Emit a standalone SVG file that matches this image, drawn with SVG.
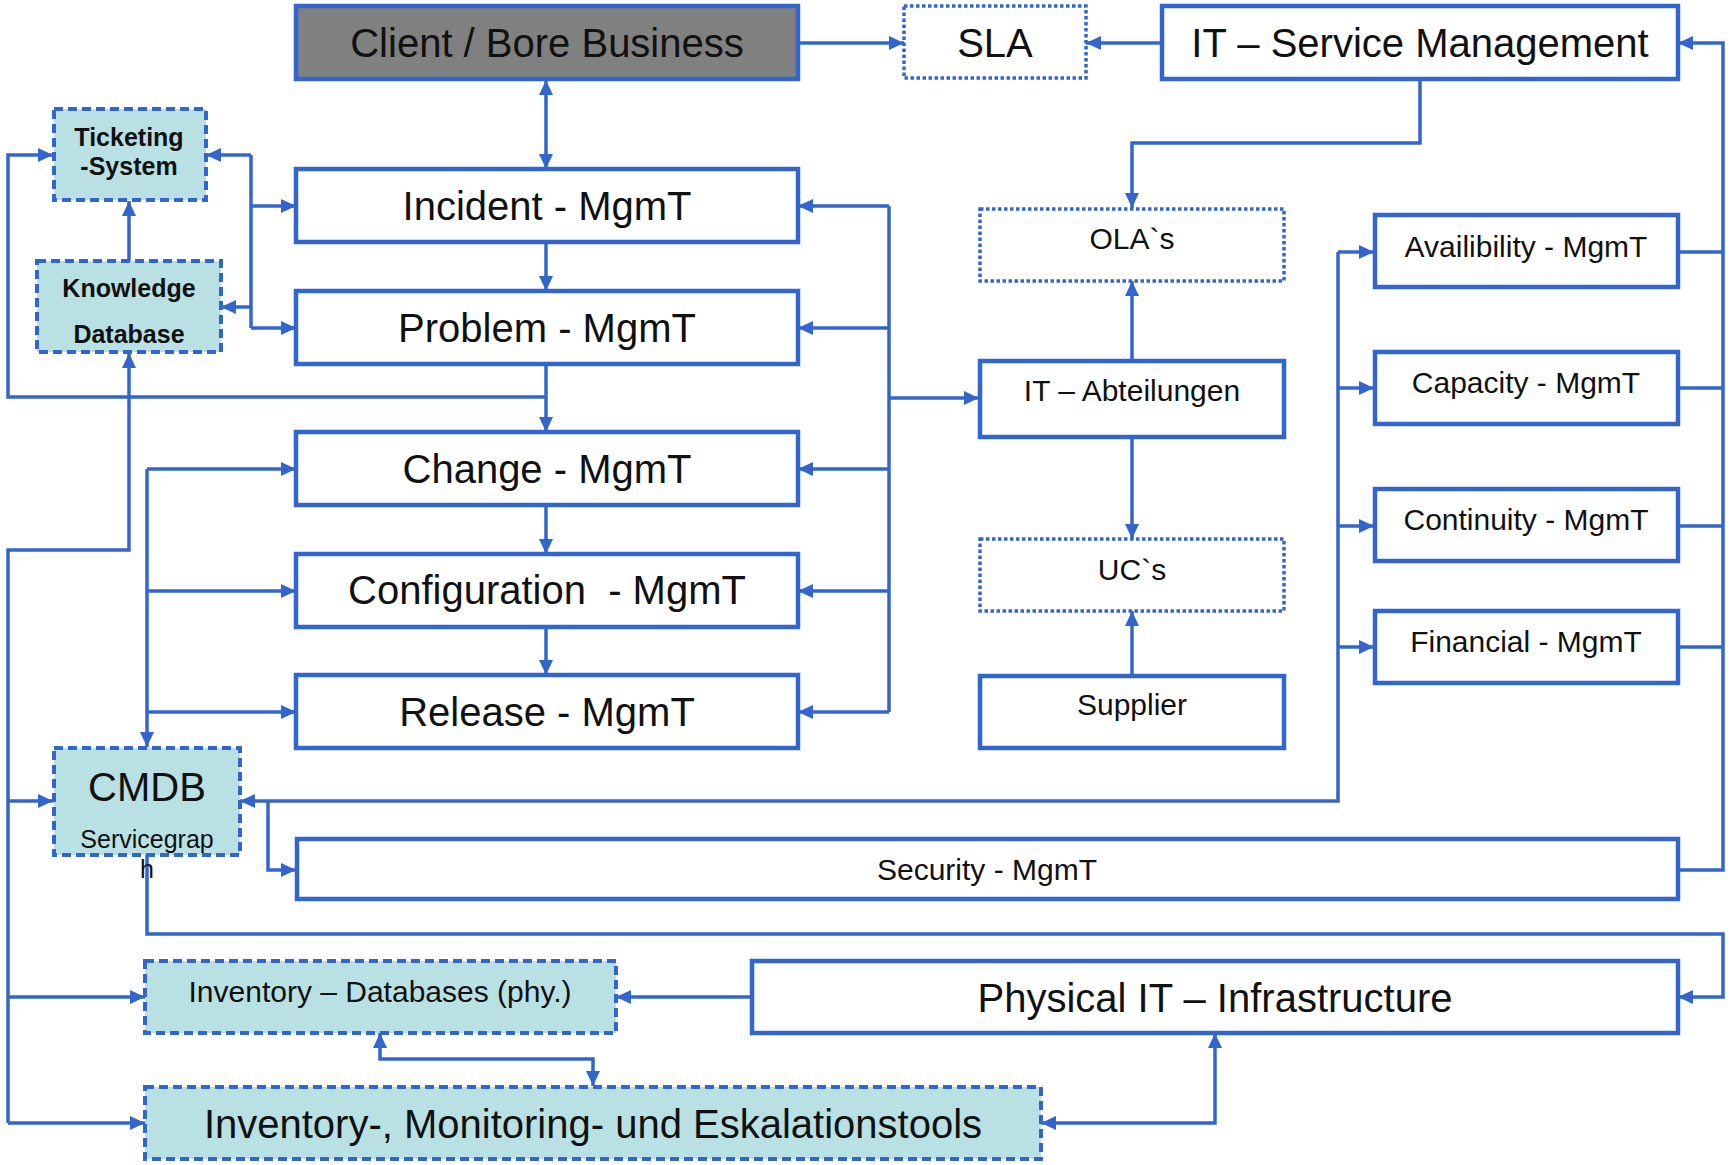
<svg xmlns="http://www.w3.org/2000/svg" width="1733" height="1165" viewBox="0 0 1733 1165">
<style>
.box{fill:#fff;stroke:#3366CC;stroke-width:4.5}
.gray{fill:#808080;stroke:#3366CC;stroke-width:4.5}
.dot{fill:#fff;stroke:#3366CC;stroke-width:3.5;stroke-dasharray:3.5 2.5}
.teal{fill:#B9E0E3;stroke:#3366CC;stroke-width:4;stroke-dasharray:9 5}
.c{fill:none;stroke:#3366CC;stroke-width:3.5}
.a{marker-end:url(#arr)}
.b{marker-start:url(#arr);marker-end:url(#arr)}
text{font-family:"Liberation Sans",Arial,sans-serif;fill:#111;text-anchor:middle;white-space:pre}
.L{font-size:40px}
.M{font-size:30px}
.S{font-size:25px}
.B{font-size:25px;font-weight:bold}
</style>
<defs>
<marker id="arr" markerUnits="userSpaceOnUse" markerWidth="17" markerHeight="15" refX="15" refY="7" orient="auto-start-reverse">
<path d="M0,0 L15,7 L0,14 z" fill="#3366CC"/>
</marker>
</defs>
<g id="connectors">
<path class="c a" d="M798,43 H904"/>
<path class="c a" d="M1162,43 H1086"/>
<path class="c b" d="M546,80 V169"/>
<path class="c a" d="M1420,80 V143 H1132 V208"/>
<path class="c a" d="M546,242 V291"/>
<path class="c a" d="M546,364 V432"/>
<path class="c a" d="M546,397 H8 V155 H53"/>
<path class="c a" d="M546,505 V554"/>
<path class="c a" d="M546,627 V675"/>
<path class="c" d="M251,155 V328"/>
<path class="c a" d="M251,155 H206"/>
<path class="c a" d="M251,206 H296"/>
<path class="c a" d="M251,307 H221"/>
<path class="c a" d="M251,328 H296"/>
<path class="c a" d="M129,261 V201"/>
<path class="c a" d="M8,1123 V550 H129 V353"/>
<path class="c a" d="M8,801 H53"/>
<path class="c a" d="M8,997 H145"/>
<path class="c a" d="M8,1123 H145"/>
<path class="c a" d="M147,469 V747"/>
<path class="c a" d="M147,469 H296"/>
<path class="c a" d="M147,591 H296"/>
<path class="c a" d="M147,712 H296"/>
<path class="c" d="M889,206 V712"/>
<path class="c a" d="M889,206 H798"/>
<path class="c a" d="M889,328 H798"/>
<path class="c a" d="M889,469 H798"/>
<path class="c a" d="M889,591 H798"/>
<path class="c a" d="M889,712 H798"/>
<path class="c a" d="M889,398 H979"/>
<path class="c a" d="M1132,360 V281"/>
<path class="c a" d="M1132,437 V539"/>
<path class="c a" d="M1132,675 V611"/>
<path class="c a" d="M1338,252 V801 H240"/>
<path class="c a" d="M1338,252 H1374"/>
<path class="c a" d="M1338,388 H1374"/>
<path class="c a" d="M1338,526 H1374"/>
<path class="c a" d="M1338,647 H1374"/>
<path class="c a" d="M268,801 V870 H296"/>
<path class="c a" d="M1678,870 H1723 V43 H1678"/>
<path class="c" d="M1678,252 H1723 M1678,388 H1723 M1678,526 H1723 M1678,647 H1723"/>
<path class="c a" d="M147,855 V934 H1723 V997 H1678"/>
<path class="c a" d="M752,997 H616"/>
<path class="c b" d="M380,1033 V1059 H593 V1086"/>
<path class="c b" d="M1215,1033 V1123 H1041"/>
</g>
<g id="client"><rect class="gray" x="296" y="6" width="502" height="73"/><text class="L" x="547" y="57">Client / Bore Business</text></g>
<g id="sla"><rect class="dot" x="904" y="6" width="182" height="72"/><text class="L" x="995" y="57">SLA</text></g>
<g id="itsm"><rect class="box" x="1162" y="6" width="516" height="73"/><text class="L" x="1420" y="57">IT – Service Management</text></g>
<g id="ticketing"><rect class="teal" x="54" y="109" width="152" height="91"/><text class="B" x="129" y="146">Ticketing</text><text class="B" x="129" y="175">-System</text></g>
<g id="knowledge"><rect class="teal" x="37" y="261" width="184" height="91"/><text class="B" x="129" y="297">Knowledge</text><text class="B" x="129" y="343">Database</text></g>
<g id="incident"><rect class="box" x="296" y="169" width="502" height="73"/><text class="L" x="547" y="220">Incident - MgmT</text></g>
<g id="problem"><rect class="box" x="296" y="291" width="502" height="73"/><text class="L" x="547" y="342">Problem - MgmT</text></g>
<g id="change"><rect class="box" x="296" y="432" width="502" height="73"/><text class="L" x="547" y="483">Change - MgmT</text></g>
<g id="configuration"><rect class="box" x="296" y="554" width="502" height="73"/><text class="L" x="547" y="604">Configuration  - MgmT</text></g>
<g id="release"><rect class="box" x="296" y="675" width="502" height="73"/><text class="L" x="547" y="726">Release - MgmT</text></g>
<g id="ola"><rect class="dot" x="980" y="209" width="304" height="72"/><text class="M" x="1132" y="249">OLA`s</text></g>
<g id="abteilungen"><rect class="box" x="980" y="361" width="304" height="76"/><text class="M" x="1132" y="401">IT – Abteilungen</text></g>
<g id="ucs"><rect class="dot" x="980" y="539" width="304" height="72"/><text class="M" x="1132" y="580">UC`s</text></g>
<g id="supplier"><rect class="box" x="980" y="676" width="304" height="72"/><text class="M" x="1132" y="715">Supplier</text></g>
<g id="availability"><rect class="box" x="1375" y="215" width="303" height="72"/><text class="M" x="1526" y="257">Availibility - MgmT</text></g>
<g id="capacity"><rect class="box" x="1375" y="352" width="303" height="72"/><text class="M" x="1526" y="393">Capacity - MgmT</text></g>
<g id="continuity"><rect class="box" x="1375" y="489" width="303" height="72"/><text class="M" x="1526" y="530">Continuity - MgmT</text></g>
<g id="financial"><rect class="box" x="1375" y="611" width="303" height="72"/><text class="M" x="1526" y="652">Financial - MgmT</text></g>
<g id="cmdb"><rect class="teal" x="54" y="748" width="186" height="107"/><text class="L" x="147" y="801">CMDB</text><text class="S" x="147" y="848">Servicegrap</text><text class="S" x="147" y="878">h</text></g>
<g id="security"><rect class="box" x="297" y="839" width="1381" height="60"/><text class="M" x="987" y="880">Security - MgmT</text></g>
<g id="inventory-db"><rect class="teal" x="145" y="961" width="471" height="72"/><text class="M" x="380" y="1002">Inventory – Databases (phy.)</text></g>
<g id="physical"><rect class="box" x="752" y="961" width="926" height="72"/><text class="L" x="1215" y="1012">Physical IT – Infrastructure</text></g>
<g id="tools"><rect class="teal" x="145" y="1087" width="896" height="72"/><text class="L" x="593" y="1138">Inventory-, Monitoring- und Eskalationstools</text></g>
</svg>
